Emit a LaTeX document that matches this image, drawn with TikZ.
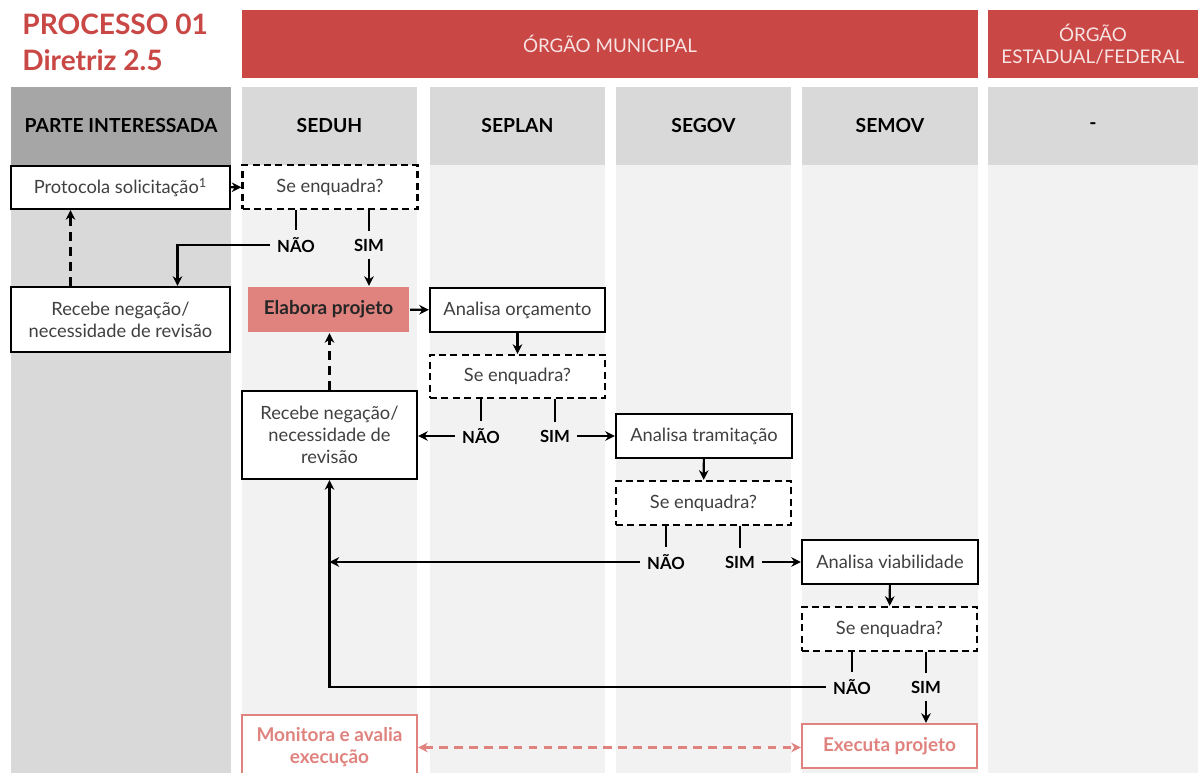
\documentclass[tikz,border=0pt]{standalone}
\usepackage{fontspec}
\setmainfont{Lato}
\usetikzlibrary{arrows.meta,calc}
\definecolor{hdrred}{RGB}{201,71,68}
\definecolor{salmon}{RGB}{224,131,126}
\definecolor{lanedark}{RGB}{166,166,166}
\definecolor{lanemid}{RGB}{217,217,217}
\definecolor{lanelight}{RGB}{242,242,242}
\definecolor{boxtext}{RGB}{64,64,64}

\begin{document}
\begin{tikzpicture}[x=0.02cm, y=-0.02cm,
    box/.style={draw, line width=1.3pt, fill=white, text=boxtext, align=center,
      font=\fontsize{10.4}{12.5}\selectfont, minimum width=3.5cm, minimum height=0.88cm, inner sep=2pt},
    ask/.style={box, dash pattern=on 4pt off 2.5pt},
    lbl/.style={font=\bfseries\fontsize{9.5}{12}\selectfont, inner sep=4pt},
    lane/.style={minimum height=1.56cm, font=\bfseries\fontsize{11}{13}\selectfont, inner sep=0pt},
    org/.style={fill=hdrred, text=white!85!hdrred, align=center, minimum height=1.36cm,
      font=\fontsize{10.7}{12.5}\selectfont, inner sep=0pt},
    arr/.style={-{Stealth[length=5.5pt,width=5.5pt]}, line width=1.2pt},
    hot/.style={box, draw=salmon, text=salmon, font=\bfseries\fontsize{10.8}{12.5}\selectfont}]
  \useasboundingbox (0,0) rectangle (1198,773);
  \fill[white] (0,0) rectangle (1198,773);

  % lanes
  \fill[lanemid] (11,165) rectangle (231,773);
  \foreach \xa/\xb in {242/417, 430/605, 616/791, 802/978, 988/1198}
    \fill[lanelight] (\xa,165) rectangle (\xb,773);

  \node[anchor=north west, align=left, text=hdrred, inner sep=0pt,
    font=\bfseries\fontsize{16}{20}\selectfont] (titulo) at (22,14) {PROCESSO 01\\Diretriz 2.5};
  \node[org, minimum width=14.72cm] (mun) at (610,44) {ÓRGÃO MUNICIPAL};
  \node[org, minimum width=4.2cm] (fed) at (1093,44) {ÓRGÃO\\ESTADUAL/FEDERAL};

  \node[lane, fill=lanedark, minimum width=4.4cm] (hparte) at (121,126) {PARTE INTERESSADA};
  \node[lane, fill=lanemid, minimum width=3.5cm] (hseduh) at (329.5,126) {SEDUH};
  \node[lane, fill=lanemid, minimum width=3.5cm] (hseplan) at (517.5,126) {SEPLAN};
  \node[lane, fill=lanemid, minimum width=3.5cm] (hsegov) at (703.5,126) {SEGOV};
  \node[lane, fill=lanemid, minimum width=3.52cm] (hsemov) at (890,126) {SEMOV};
  \node[lane, fill=lanemid, minimum width=4.2cm] (hfed) at (1093,126) {-};

  % steps
  \node[box, minimum width=4.38cm, minimum height=0.86cm] (prot) at (120.5,187.5) {Protocola solicitação\textsuperscript{1}};
  \node[ask] (q1) at (330,187) {Se enquadra?};
  \node[lbl] (no1) at (296,245) {NÃO};
  \node[lbl] (si1) at (369,245) {SIM};
  \node[box, minimum width=4.38cm, minimum height=1.3cm] (rec1) at (120.5,319.5) {Recebe negação/\\necessidade de revisão};
  \node[box, draw=none, fill=salmon, text=black!85, minimum width=3.22cm, minimum height=0.9cm,
    font=\bfseries\fontsize{10.8}{12.5}\selectfont] (elab) at (328.5,309.5) {Elabora projeto};
  \node[box] (orc) at (517.5,310) {Analisa orçamento};
  \node[ask, minimum height=0.86cm] (q2) at (517.5,376.5) {Se enquadra?};
  \node[lbl] (no2) at (481,436) {NÃO};
  \node[lbl] (si2) at (555,436) {SIM};
  \node[box, minimum height=1.76cm] (rec2) at (329.5,435) {Recebe negação/\\necessidade de\\revisão};
  \node[box, minimum width=3.52cm] (tram) at (704,436) {Analisa tramitação};
  \node[ask] (q3) at (703.5,503) {Se enquadra?};
  \node[lbl] (no3) at (666,562) {NÃO};
  \node[lbl] (si3) at (740,562) {SIM};
  \node[box, minimum width=3.52cm] (via) at (890,562) {Analisa viabilidade};
  \node[ask] (q4) at (889.5,629) {Se enquadra?};
  \node[lbl] (no4) at (852,687) {NÃO};
  \node[lbl] (si4) at (926,687) {SIM};
  \node[hot] (exe) at (889.5,746) {Executa projeto};
  \node[hot, minimum height=1.3cm] (mon) at (329.5,747.5) {Monitora e avalia\\execução};

  % flow
  \draw[arr] (prot) -- (q1);
  \draw[line width=1.2pt] (no1.north |- q1.south) -- (no1.north);
  \draw[line width=1.2pt] (si1.north |- q1.south) -- (si1.north);
  \draw[arr] (no1.west) -| ($(rec1.north)+(57,0)$);
  \draw[arr] (si1.south) -- (si1.south |- elab.north);
  \draw[arr, dash pattern=on 5pt off 3.5pt] ($(rec1.north)+(-50,0)$) -- ($(prot.south)+(-50,0)$);
  \draw[arr] (elab) -- (orc);
  \draw[arr] (orc) -- (q2);
  \draw[line width=1.2pt] (no2.north |- q2.south) -- (no2.north);
  \draw[line width=1.2pt] (si2.north |- q2.south) -- (si2.north);
  \draw[arr] (no2.west) -- (no2.west -| rec2.east);
  \draw[arr] (si2.east) -- (si2.east -| tram.west);
  \draw[arr, dash pattern=on 5pt off 3.5pt] (rec2.north) -- (rec2.north |- elab.south);
  \draw[arr] (tram) -- (q3);
  \draw[line width=1.2pt] (no3.north |- q3.south) -- (no3.north);
  \draw[line width=1.2pt] (si3.north |- q3.south) -- (si3.north);
  \draw[arr] (no3.west) -- (no3.west -| rec2.south);
  \draw[arr] (si3.east) -- (si3.east -| via.west);
  \draw[arr] (via) -- (q4);
  \draw[line width=1.2pt] (no4.north |- q4.south) -- (no4.north);
  \draw[line width=1.2pt] (si4.north |- q4.south) -- (si4.north);
  \draw[arr] (no4.west) -| (rec2.south);
  \draw[arr] (si4.south) -- (si4.south |- exe.north);
  \draw[{Stealth[length=5.5pt,width=5.5pt]}-{Stealth[length=5.5pt,width=5.5pt]}, line width=1.2pt, salmon,
    dash pattern=on 5pt off 3.5pt] (mon.east) -- (mon.east -| exe.west);
\end{tikzpicture}
\end{document}
